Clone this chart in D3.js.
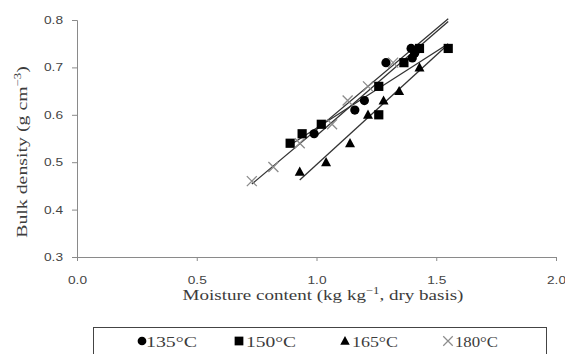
<!DOCTYPE html>
<html>
<head>
<meta charset="utf-8">
<script src="https://cdn.jsdelivr.net/npm/d3@7"></script>
<style>
  body { margin: 0; background: #fff; }
  text.serif { font-family: "Liberation Serif", "Times New Roman", serif; }
  .tick text { font-family: "Liberation Sans", Arial, sans-serif; font-size: 11px; fill: #444; }
</style>
</head>
<body>
<script>
// values
var series = ["135°C", "150°C", "165°C", "180°C"];
var x135 = [0.99, 1.16, 1.20, 1.29, 1.395, 1.40, 1.41];
var y135 = [0.56, 0.61, 0.63, 0.71, 0.74, 0.72, 0.73];
var x150 = [0.89, 0.94, 1.02, 1.26, 1.26, 1.365, 1.43, 1.55];
var y150 = [0.54, 0.56, 0.58, 0.60, 0.66, 0.71, 0.74, 0.74];
var x165 = [0.93, 1.04, 1.14, 1.215, 1.28, 1.345, 1.43];
var y165 = [0.48, 0.50, 0.54, 0.60, 0.63, 0.65, 0.70];
var x180 = [0.73, 0.82, 0.93, 1.065, 1.13, 1.215, 1.32];
var y180 = [0.46, 0.49, 0.54, 0.58, 0.63, 0.66, 0.71];
var xTicks = [0, 0.5, 1.0, 1.5, 2.0];
var yTicks = [0.3, 0.4, 0.5, 0.6, 0.7, 0.8];

var width = 565,
    height = 354;

var svg = d3.select("body").append("svg")
    .attr("width", width)
    .attr("height", height);

var x = d3.scaleLinear().domain([0, 2]).range([77, 556]);
var y = d3.scaleLinear().domain([0.3, 0.8]).range([257, 20]);

// axes
svg.append("g")
    .attr("transform", "translate(0," + y(0.3) + ")")
    .call(d3.axisBottom(x).tickValues(xTicks).tickFormat(d3.format(".1f")).tickSize(4).tickPadding(15));
svg.append("g")
    .attr("transform", "translate(" + x(0) + ",0)")
    .call(d3.axisLeft(y).tickValues(yTicks).tickFormat(d3.format(".1f")).tickSize(5).tickPadding(9));
svg.selectAll(".domain, .tick line").attr("stroke", "#8a8a8a");
svg.selectAll(".tick text")
    .attr("textLength", 19)
    .attr("lengthAdjust", "spacingAndGlyphs");

// axis titles
var yt = svg.append("text")
    .attr("class", "serif")
    .attr("transform", "translate(27,152) rotate(-90) scale(1.28,1)")
    .attr("text-anchor", "middle")
    .attr("font-size", 15.5)
    .attr("fill", "#3c3c3c");
yt.append("tspan").text("Bulk density (g cm");
yt.append("tspan").attr("dy", -6).attr("font-size", 10).text("−3");
yt.append("tspan").attr("dy", 6).text(")");

var xt = svg.append("text")
    .attr("class", "serif")
    .attr("transform", "translate(323,300) scale(1.27,1)")
    .attr("text-anchor", "middle")
    .attr("font-size", 15)
    .attr("fill", "#3c3c3c");
xt.append("tspan").text("Moisture content (kg kg");
xt.append("tspan").attr("dy", -6).attr("font-size", 10).text("−1");
xt.append("tspan").attr("dy", 6).text(", dry basis)");

var data = [
  { name: series[0], xs: x135, ys: y135, shape: "circle" },
  { name: series[1], xs: x150, ys: y150, shape: "square" },
  { name: series[2], xs: x165, ys: y165, shape: "triangle" },
  { name: series[3], xs: x180, ys: y180, shape: "cross" }
];

var allX = x135.concat(x150, x165, x180);
var xEnd = d3.max(allX);

// linear trend lines
function fit(xs, ys) {
  var mx = d3.mean(xs), my = d3.mean(ys);
  var sxy = d3.sum(xs, function(v, i) { return (v - mx) * (ys[i] - my); });
  var sxx = d3.sum(xs, function(v) { return (v - mx) * (v - mx); });
  var b = sxy / sxx;
  return function(v) { return my + b * (v - mx); };
}

data.forEach(function(s) {
  var f = fit(s.xs, s.ys);
  var x0 = d3.min(s.xs);
  svg.append("line")
      .attr("x1", x(x0)).attr("y1", y(f(x0)))
      .attr("x2", x(xEnd)).attr("y2", y(f(xEnd)))
      .attr("stroke", "#333")
      .attr("stroke-width", 1.3);
});

function marker(g, shape) {
  if (shape == "circle") {
    g.append("circle").attr("r", 4.6).attr("fill", "#000");
  } else if (shape == "square") {
    g.append("rect").attr("x", -4.6).attr("y", -4.6).attr("width", 9.2).attr("height", 9.2).attr("fill", "#000");
  } else if (shape == "triangle") {
    g.append("path").attr("d", "M0,-5.2L5,4L-5,4Z").attr("fill", "#000");
  } else {
    g.append("path").attr("d", "M-5,-5L5,5M-5,5L5,-5").attr("stroke", "#8c8c8c").attr("stroke-width", 1.3).attr("fill", "none");
  }
}

data.forEach(function(s) {
  s.xs.forEach(function(v, i) {
    var g = svg.append("g").attr("transform", "translate(" + x(v) + "," + y(s.ys[i]) + ")");
    marker(g, s.shape);
  });
});

// legend
svg.append("rect")
    .attr("x", 93.5).attr("y", 327.5)
    .attr("width", 453).attr("height", 40)
    .attr("fill", "none")
    .attr("stroke", "#444");

var legX = [142, 239, 345, 448];
var legTx = [146, 246, 352, 455];
var legW = [51, 50, 46, 43];
data.forEach(function(s, i) {
  var g = svg.append("g").attr("transform", "translate(" + legX[i] + ",341) scale(0.95)");
  marker(g, s.shape);
  svg.append("text")
      .attr("class", "serif")
      .attr("x", legTx[i]).attr("y", 346.5)
      .attr("font-size", 14.5)
      .attr("fill", "#3c3c3c")
      .attr("textLength", legW[i])
      .attr("lengthAdjust", "spacingAndGlyphs")
      .text(s.name);
});
</script>
</body>
</html>
